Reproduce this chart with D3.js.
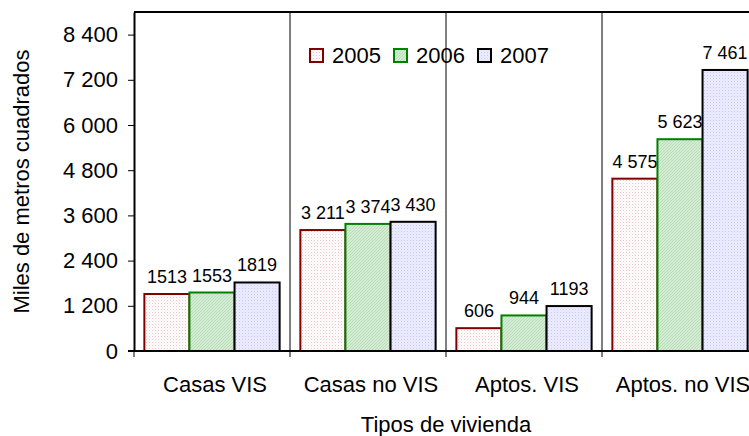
<!DOCTYPE html>
<html>
<head>
<meta charset="utf-8">
<script src="https://cdn.jsdelivr.net/npm/d3@7"></script>
<style>
    body { margin: 0; background: #fff; }
    svg text { font-family: "Liberation Sans", Arial, sans-serif; fill: #000; }
</style>
</head>
<body>
<div id="chart"></div>
<script>
var categories = ["Casas VIS", "Casas no VIS", "Aptos. VIS", "Aptos. no VIS"];
var years = ["2005", "2006", "2007"];
var values2005 = [1513, 3211, 606, 4575];
var values2006 = [1553, 3374, 944, 5623];
var values2007 = [1819, 3430, 1193, 7461];
var yTicks = [0, 1200, 2400, 3600, 4800, 6000, 7200, 8400];

var width = 749,
    height = 436;

var series = [values2005, values2006, values2007];
var strokes = ["#800000", "#008000", "#000000"];

var locale = d3.formatLocale({ decimal: ",", thousands: " ", grouping: [3], currency: ["", ""] });
var fmt = locale.format(",d");
function labelText(v) {
    // the small 1 xxx labels are drawn without the gap in the original
    return v < 2000 ? String(v) : fmt(v);
}

var x = d3.scaleBand()
    .domain(categories)
    .range([134, 758]);

var x1 = d3.scaleBand()
    .domain(years)
    .range([0, x.bandwidth()])
    .paddingOuter(0.23);

var y = d3.scaleLinear()
    .domain([0, 9000])
    .range([351, 12]);

var svg = d3.select("#chart")
    .append("svg")
    .attr("width", width)
    .attr("height", height);

// fill patterns
var defs = svg.append("defs");

var p0 = defs.append("pattern").attr("id", "pat2005")
    .attr("width", 3).attr("height", 3).attr("patternUnits", "userSpaceOnUse");
p0.append("rect").attr("width", 3).attr("height", 3).attr("fill", "#fff");
p0.append("rect").attr("width", 1).attr("height", 1).attr("fill", "#eec4c4");
p0.append("rect").attr("x", 1.5).attr("y", 1.5).attr("width", 1).attr("height", 1).attr("fill", "#f6dcdc");

var p1 = defs.append("pattern").attr("id", "pat2006")
    .attr("width", 3).attr("height", 3).attr("patternUnits", "userSpaceOnUse");
p1.append("rect").attr("width", 3).attr("height", 3).attr("fill", "#d4ecd4");
p1.append("path").attr("d", "M0,3 L3,0").attr("stroke", "#b0d8b0").attr("stroke-width", 0.8);

var p2 = defs.append("pattern").attr("id", "pat2007")
    .attr("width", 3).attr("height", 3).attr("patternUnits", "userSpaceOnUse");
p2.append("rect").attr("width", 3).attr("height", 3).attr("fill", "#ececff");
p2.append("rect").attr("width", 1).attr("height", 1).attr("fill", "#c8c8f2");
p2.append("rect").attr("x", 1.5).attr("y", 1.5).attr("width", 1).attr("height", 1).attr("fill", "#d8d8f8");

// frame: top line and category separators
svg.append("line")
    .attr("x1", x.range()[0]).attr("x2", x.range()[1])
    .attr("y1", y(9000)).attr("y2", y(9000))
    .attr("stroke", "#000").attr("stroke-width", 2);

svg.selectAll(".sep")
    .data(categories)
    .enter()
    .append("line")
    .attr("class", "sep")
    .attr("x1", function (d) { return x(d) + x.bandwidth(); })
    .attr("x2", function (d) { return x(d) + x.bandwidth(); })
    .attr("y1", y(9000))
    .attr("y2", y(0) + 6)
    .attr("stroke", "#000")
    .attr("stroke-width", 1);

// bars
var groups = svg.selectAll(".grp")
    .data(categories)
    .enter()
    .append("g")
    .attr("class", "grp")
    .attr("transform", function (d) { return "translate(" + x(d) + ",0)"; });

years.forEach(function (yr, s) {
    groups.append("rect")
        .attr("x", x1(yr))
        .attr("width", x1.bandwidth())
        .attr("y", function (d, i) { return y(series[s][i]); })
        .attr("height", function (d, i) { return y(0) - y(series[s][i]); })
        .attr("fill", "url(#pat" + yr + ")")
        .attr("stroke", strokes[s])
        .attr("stroke-width", 2);

    groups.append("text")
        .attr("x", x1(yr) + x1.bandwidth() / 2)
        .attr("y", function (d, i) { return y(series[s][i]) - 11; })
        .attr("text-anchor", "middle")
        .style("font-size", "18px")
        .text(function (d, i) { return labelText(series[s][i]); });
});

// y axis
var yAxis = svg.append("g")
    .attr("transform", "translate(" + x.range()[0] + ",0)")
    .call(d3.axisLeft(y).tickValues(yTicks).tickSize(6).tickSizeOuter(0).tickFormat(fmt));
yAxis.select(".domain").attr("stroke-width", 2);
yAxis.selectAll("text")
    .attr("x", -16)
    .style("font-size", "22px")
    .style("font-family", "Liberation Sans, Arial, sans-serif");

// x baseline
svg.append("line")
    .attr("x1", x.range()[0] - 6).attr("x2", width)
    .attr("y1", y(0)).attr("y2", y(0))
    .attr("stroke", "#000").attr("stroke-width", 2);
svg.append("line")
    .attr("x1", x.range()[0]).attr("x2", x.range()[0])
    .attr("y1", y(0)).attr("y2", y(0) + 6)
    .attr("stroke", "#000").attr("stroke-width", 1);

// category labels
svg.selectAll(".cat")
    .data(categories)
    .enter()
    .append("text")
    .attr("class", "cat")
    .attr("x", function (d) { return x(d) + x.bandwidth() / 2 + 3; })
    .attr("y", 392)
    .attr("text-anchor", "middle")
    .style("font-size", "22px")
    .text(function (d) { return d; });

// axis titles
svg.append("text")
    .attr("x", (x.range()[0] + x.range()[1]) / 2)
    .attr("y", 432)
    .attr("text-anchor", "middle")
    .style("font-size", "22px")
    .text("Tipos de vivienda");

svg.append("text")
    .attr("transform", "translate(29," + (y(0) + y(9000)) / 2 + ") rotate(-90)")
    .attr("text-anchor", "middle")
    .style("font-size", "22px")
    .text("Miles de metros cuadrados");

// legend
var legend = svg.append("g")
    .attr("transform", "translate(310,49)");

var lg = legend.selectAll("g")
    .data(years)
    .enter()
    .append("g")
    .attr("transform", function (d, i) { return "translate(" + (i * 84) + ",0)"; });

lg.append("rect")
    .attr("width", 13)
    .attr("height", 13)
    .attr("fill", function (d) { return "url(#pat" + d + ")"; })
    .attr("stroke", function (d, i) { return strokes[i]; })
    .attr("stroke-width", 2);

lg.append("text")
    .attr("x", 22)
    .attr("y", 14)
    .style("font-size", "22px")
    .text(function (d) { return d; });
</script>
</body>
</html>
